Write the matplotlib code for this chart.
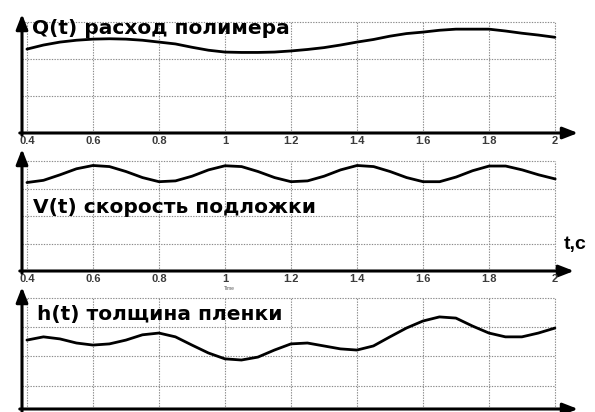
import numpy as np
import matplotlib.pyplot as plt

# time grid (step 0.05 s)
t = np.round(np.arange(0.40, 2.0001, 0.05), 2)

# Q(t) - polymer flow, upper panel (grid units)
q_vals = [2.27, 2.38, 2.46, 2.51, 2.54, 2.55, 2.54, 2.51, 2.46, 2.41, 2.32,
          2.24, 2.19, 2.18, 2.18, 2.19, 2.22, 2.26, 2.31, 2.38, 2.46, 2.53,
          2.62, 2.69, 2.73, 2.78, 2.81, 2.81, 2.81, 2.76, 2.70, 2.65, 2.59]

# V(t) - substrate speed, middle panel
v_vals = [3.22, 3.30, 3.50, 3.72, 3.84, 3.80, 3.62, 3.40, 3.25, 3.28, 3.45,
          3.68, 3.83, 3.80, 3.62, 3.40, 3.25, 3.28, 3.45, 3.68, 3.84, 3.80,
          3.62, 3.40, 3.25, 3.25, 3.42, 3.65, 3.82, 3.82, 3.68, 3.50, 3.35]

# h(t) - film thickness, lower panel
h_vals = [2.35, 2.46, 2.39, 2.25, 2.18, 2.22, 2.35, 2.53, 2.59, 2.46, 2.18,
          1.91, 1.71, 1.67, 1.77, 2.01, 2.22, 2.25, 2.15, 2.05, 2.01, 2.15,
          2.46, 2.76, 3.00, 3.14, 3.10, 2.83, 2.59, 2.46, 2.46, 2.59, 2.76]

x_ticks = [0.4, 0.6, 0.8, 1.0, 1.2, 1.4, 1.6, 1.8, 2.0]
x_labels = ["0.4", "0.6", "0.8", "1", "1.2", "1.4", "1.6", "1.8", "2"]

W, H = 595, 412


def px_axes(fig, left, right, top, bottom):
    return fig.add_axes([left / W, 1 - bottom / H, (right - left) / W, (bottom - top) / H])


def panel(ax, y, ylim, grid_y, title, title_xy, tick_labels=True, xmax=2.07):
    ax.set_xlim(0.385, xmax)
    ax.set_ylim(*ylim)
    for s in ax.spines.values():
        s.set_visible(False)
    ax.set_xticks([])
    ax.set_yticks([])
    ax.patch.set_alpha(0)

    grid_kw = dict(color="#8a8a8a", lw=0.8, linestyle=(0, (1.2, 1.2)), zorder=1)
    ax.hlines(grid_y, 0.385, 2.0, **grid_kw)
    ax.vlines(x_ticks, ylim[0], grid_y[-1], **grid_kw)

    ax.plot(t, y, color="black", lw=2.0, zorder=3, solid_capstyle="round",
            solid_joinstyle="round")

    arrow = dict(arrowstyle="-|>,head_length=0.9,head_width=0.35", lw=2.2,
                 color="black", shrinkA=0, shrinkB=0)
    ax.annotate("", xy=(1, 0), xytext=(-0.004, 0), xycoords="axes fraction",
                arrowprops=arrow, annotation_clip=False)
    ax.annotate("", xy=(0, 1), xytext=(0, -0.02), xycoords="axes fraction",
                arrowprops=arrow, annotation_clip=False)

    if tick_labels:
        for xt, lab in zip(x_ticks, x_labels):
            ax.annotate(lab, (xt, 0), xytext=(0, -6), textcoords="offset points",
                        ha="center", va="center", fontsize=8, fontweight="bold",
                        color="#3a3a3a", family="Liberation Sans")

    ax.text(title_xy[0], title_xy[1], title, transform=ax.transData, fontsize=14.5,
            fontweight="bold", family="DejaVu Sans", ha="left", va="center",
            color="black", zorder=4)


fig = plt.figure(figsize=(W / 100, H / 100), dpi=100)

ax1 = px_axes(fig, 22, 578, 14, 133)
panel(ax1, q_vals, (0, 3.22), [1, 2, 3], "Q(t) расход полимера", (0.415, 2.84))

ax2 = px_axes(fig, 22, 574, 149, 271)
panel(ax2, v_vals, (0, 4.44), [1, 2, 3, 4], "V(t) скорость подложки", (0.418, 2.32),
      xmax=2.057)

ax3 = px_axes(fig, 22, 578, 287, 409)
panel(ax3, h_vals, (0, 4.16), [0.8, 1.8, 2.8, 3.8], "h(t) толщина пленки",
      (0.43, 3.22), tick_labels=False)

fig.text(564 / W, 1 - 245 / H, "t,c", fontsize=14, fontweight="bold",
         family="Liberation Sans", ha="left", va="center")
fig.text(229 / W, 1 - 289 / H, "Time", fontsize=3.5, color="#555555",
         family="Liberation Sans", ha="center", va="center")

fig.savefig("out.png", dpi=100)
